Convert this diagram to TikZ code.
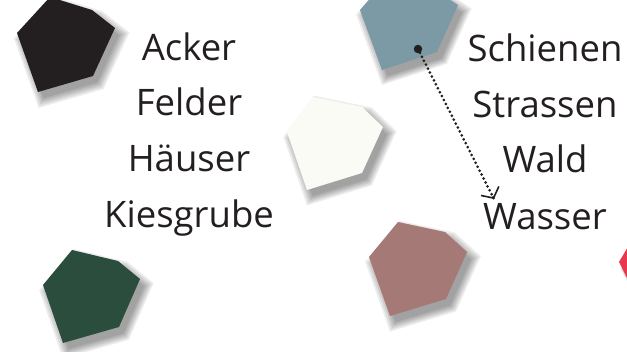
\documentclass[tikz,border=0pt]{standalone}
\usepackage{fontspec}
\setmainfont{Open Sans}
\usetikzlibrary{arrows.meta,calc}
\definecolor{txt}{HTML}{231F20}
\definecolor{cblack}{HTML}{231F20}
\definecolor{cblue}{HTML}{7B9AA6}
\definecolor{cwhite}{HTML}{FBFBF5}
\definecolor{cgreen}{HTML}{2A4D3E}
\definecolor{cbrown}{HTML}{A57A76}
\definecolor{cred}{HTML}{E8384F}
\tikzset{
  shadowlayer/.style={fill=black, opacity=0.07},
  word/.style={anchor=base, inner sep=0pt, text=txt, font=\fontsize{36.5}{44}\selectfont},
  pointerline/.style={txt, line width=3pt, dash pattern=on 0pt off 4.4pt, line cap=round},
  pointerhead/.style={txt, solid, line width=1.6pt, -{Straight Barb[length=8pt,width=20pt]}},
}
% #1 colour, #2 centre, #3 outline path
\newcommand{\gemdraw}[3]{%
  \foreach \s in {1.18,1.14,1.10,1.06,1.02,0.98} {%
    \begin{scope}[shift={(5,7)}, scale around={\s:(#2)}]
      \path[shadowlayer] #3;
    \end{scope}}%
  \path[fill=#1] #3;%
}
\begin{document}
\begin{tikzpicture}[x=1pt,y=-1pt]
\useasboundingbox (0,0) rectangle (627,352);
\clip (0,0) rectangle (627,352);
\fill[white] (0,0) rectangle (627,352);
% gems
\gemdraw{cblack}{62,42}{(50,-3) -- (92,10) -- (115,28) -- (93,76) -- (38,92) -- (17,33) -- cycle}
\gemdraw{cblue}{410,25}{(360,10) -- (374,-6) -- (432,-12) -- (458,5) -- (437,52) -- (382,70) -- cycle}
\gemdraw{cwhite}{335,143}{(313,97) -- (362,107) -- (383,127) -- (362,173) -- (307,190) -- (287,132) -- cycle}
\gemdraw{cgreen}{92,295}{(72,250) -- (118,261) -- (140,279) -- (119,327) -- (63,343) -- (43,285) -- cycle}
\gemdraw{cbrown}{418,268}{(398,222) -- (445,232) -- (467,252) -- (446,299) -- (390,316) -- (369,257) -- cycle}
\gemdraw{cred}{638,265}{(619,262) -- (632,240) -- (660,250) -- (640,290) -- (628,280) -- cycle}
% words
\node[word] (acker) at (189,61) {Acker};
\node[word] (felder) at (189,116) {Felder};
\node[word] (haeuser) at (189,172) {Häuser};
\node[word] (kies) at (189,228) {Kiesgrube};
\node[word] (schienen) at (545,62) {Schienen};
\node[word] (strassen) at (545,118) {Strassen};
\node[word] (wald) at (545,173) {Wald};
\node[word] (wasser) at (545,230) {Wasser};
% pointer
\node[circle, fill=txt, inner sep=0pt, minimum size=8.5pt] (dot) at (418,49) {};
\coordinate (tip) at (494,199);
\draw[pointerline] (dot.center) -- (tip);
\draw[pointerhead] ($(tip)!3pt!(dot.center)$) -- (tip);
\end{tikzpicture}
\end{document}
